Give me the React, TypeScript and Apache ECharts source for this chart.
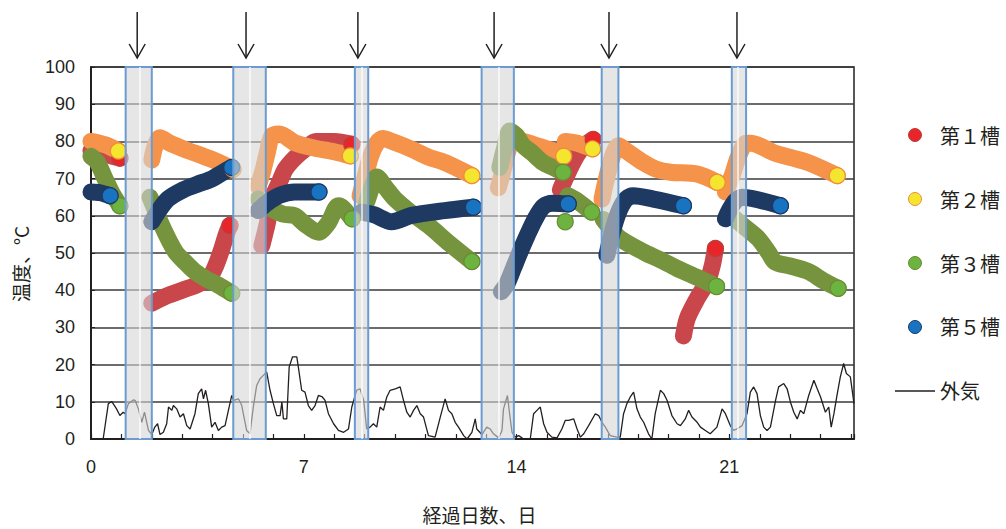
import React, { useEffect, useRef } from 'react';
import * as echarts from 'echarts';

// ---- axis / annotation data ----
const xTickLabels = [0, 7, 14, 21];
const bandRanges = [[1.14, 2.0], [4.68, 5.75], [8.68, 9.12], [12.85, 13.91], [16.8, 17.35], [21.08, 21.55]];
const bandGapDays = [1.61, 5.21, 8.9, 13.4, 21.29];
const arrowDays = [1.52, 5.1, 8.78, 13.26, 17.04, 21.25];

// ---- tank temperatures: [day, °C], one array per run ----
const tank1Segments = [
  [[0, 77.5], [0.5, 76.5], [0.95, 75.5]],
  [[2.0, 36.5], [2.5, 38.5], [3.0, 40], [3.5, 41.5], [3.9, 43.5], [4.1, 46.5], [4.3, 51], [4.45, 55], [4.57, 57.4]],
  [[5.62, 52], [5.8, 58], [5.95, 64.5], [6.2, 69], [6.39, 72.5], [6.7, 75.5], [7.05, 78], [7.4, 80], [8.0, 80], [8.58, 79.2]],
  [[15.44, 67], [15.6, 70], [15.8, 73.5], [16.0, 76.5], [16.25, 79], [16.52, 80.5]],
  [[19.49, 27.7], [19.62, 32.5], [19.95, 37.9], [20.28, 42.4], [20.44, 46.7], [20.54, 51.2]],
];
const tank2Segments = [
  [[0, 80], [0.5, 79], [0.9, 77.4]],
  [[2.0, 75], [2.1, 78.5], [2.27, 81], [2.6, 79.5], [3.1, 77.8], [3.7, 76], [4.2, 74.4], [4.67, 72.5]],
  [[5.5, 68], [5.65, 72], [5.8, 77], [5.95, 81.5], [6.2, 82], [6.71, 79.6], [7.3, 78.3], [8.0, 77.2], [8.53, 76.1]],
  [[8.85, 65.4], [9.0, 70], [9.2, 76], [9.4, 79.5], [9.6, 80.8], [9.9, 80], [10.55, 77.9], [11.1, 75.8], [11.65, 74.3], [12.53, 70.8]],
  [[13.4, 67.5], [13.55, 72], [13.7, 77], [13.85, 80], [14.2, 80], [14.6, 79], [15.0, 78], [15.3, 77.3], [15.55, 76]],
  [[15.6, 80], [16.0, 79.5], [16.5, 78]],
  [[16.81, 64.5], [16.9, 68], [17.05, 73], [17.2, 77], [17.35, 78.8], [17.6, 77.5], [18.17, 74.3], [18.6, 72.5], [19.06, 71.7], [19.95, 71.2], [20.6, 69]],
  [[20.87, 66.4], [21.1, 71], [21.3, 76], [21.55, 79.5], [21.7, 79.5], [22.51, 76.8], [23.1, 75.5], [23.6, 74.3], [24.55, 70.8]],
];
const tank3Segments = [
  [[0, 76], [0.2, 74.5], [0.46, 70], [0.7, 66], [0.95, 62.7]],
  [[1.94, 65], [2.33, 57.4], [2.77, 50.4], [3.1, 47.5], [3.42, 45], [3.8, 43], [4.18, 41.4], [4.63, 39.2]],
  [[5.5, 64.5], [5.8, 62.5], [6.3, 60.5], [6.71, 60], [7.0, 58], [7.48, 55.6], [7.8, 58], [8.14, 62.7], [8.3, 62], [8.59, 59.2]],
  [[9.07, 63.7], [9.25, 68], [9.4, 70.4], [9.7, 67.5], [10.0, 64.5], [10.5, 61], [11.1, 57.4], [11.8, 52.5], [12.53, 47.7]],
  [[13.45, 73], [13.6, 78], [13.78, 82.8], [14.0, 81.5], [14.2, 79], [14.5, 77], [14.87, 74.3], [15.2, 73], [15.53, 71.7]],
  [[15.6, 58.4]],
  [[15.7, 65.4], [16.0, 64], [16.47, 61]],
  [[16.85, 59], [17.1, 56.5], [17.4, 53.9], [18.17, 50.3], [18.7, 48.3], [19.27, 45.9], [20.0, 43.2], [20.58, 41]],
  [[21.18, 59.2], [21.5, 57], [21.95, 53.9], [22.3, 50], [22.5, 47.6], [23.0, 46.5], [23.6, 45], [24.1, 42.5], [24.58, 40.5]],
];
const tank5Segments = [
  [[0, 66.4], [0.3, 66.2], [0.63, 65.4]],
  [[2.0, 58.4], [2.2, 61], [2.53, 64.5], [3.09, 67.2], [3.5, 68.5], [3.97, 69.9], [4.3, 71.5], [4.63, 73]],
  [[5.5, 61.4], [5.8, 63.5], [6.2, 65.5], [6.7, 66.4], [7.5, 66.4]],
  [[8.9, 61], [9.3, 60.3], [9.89, 58.4], [10.55, 60.1], [11.64, 61.4], [12.58, 62.3]],
  [[13.5, 39.6], [13.7, 42], [13.9, 46], [14.1, 50], [14.35, 54.7], [14.6, 59], [14.88, 62.5], [15.2, 63.4], [15.7, 63.2]],
  [[16.97, 49.4], [17.1, 54], [17.25, 58.5], [17.41, 62], [17.6, 64.5], [17.84, 65.4], [18.5, 64.5], [19.49, 62.7]],
  [[20.87, 59.2], [21.0, 61.5], [21.2, 64], [21.42, 65], [22.0, 64.2], [22.68, 62.7]],
];

// ---- outside air temperature ----
const airDays = [
  0.4, 0.57, 0.68, 0.84, 0.95, 1.06, 1.12, 1.23, 1.39, 1.45, 1.56, 1.67, 1.76, 1.89, 2.0, 2.1, 2.19, 2.27, 2.38, 2.49,
  2.55, 2.66, 2.71, 2.82, 2.93, 3.04, 3.15, 3.26, 3.42, 3.53, 3.64, 3.7, 3.77, 3.86, 3.97, 4.08, 4.19, 4.3, 4.41, 4.52,
  4.63, 4.69, 4.85, 4.96, 5.01, 5.12, 5.23, 5.29, 5.34, 5.45, 5.56, 5.67, 5.78, 5.89, 6.0, 6.11, 6.22, 6.28, 6.33, 6.44,
  6.52, 6.63, 6.77, 6.82, 6.93, 7.04, 7.15, 7.26, 7.37, 7.48, 7.61, 7.7, 7.81, 7.98, 8.14, 8.31, 8.47, 8.58, 8.74, 8.85,
  8.97, 9.07, 9.18, 9.29, 9.4, 9.51, 9.62, 9.73, 9.84, 10.01, 10.17, 10.28, 10.39, 10.5, 10.61, 10.72, 10.83, 10.94, 11.1, 11.32,
  11.49, 11.65, 11.76, 11.87, 11.98, 12.09, 12.26, 12.37, 12.53, 12.64, 12.69, 12.86, 13.02, 13.13, 13.24, 13.41, 13.52, 13.57, 13.7, 13.77,
  13.85, 13.96, 14.07, 14.23, 14.45, 14.56, 14.67, 14.78, 14.89, 15.0, 15.16, 15.33, 15.49, 15.6, 15.71, 15.88, 15.99, 16.1, 16.21, 16.37,
  16.59, 16.7, 16.81, 16.92, 17.08, 17.3, 17.41, 17.52, 17.63, 17.74, 17.85, 17.96, 18.07, 18.18, 18.34, 18.45, 18.56, 18.73, 18.84, 18.95,
  19.11, 19.28, 19.39, 19.55, 19.66, 19.77, 19.94, 20.05, 20.21, 20.37, 20.59, 20.76, 20.87, 21.03, 21.14, 21.25, 21.42, 21.58, 21.69, 21.8,
  21.91, 22.02, 22.13, 22.24, 22.35, 22.52, 22.62, 22.79, 22.9, 23.01, 23.12, 23.23, 23.34, 23.45, 23.61, 23.78, 23.89, 24.0, 24.16, 24.27,
  24.35, 24.44, 24.54, 24.65, 24.76, 24.85, 24.98, 25.1,
];
const airTemps = [
  0, 9.5, 10.1, 8.1, 6.3, 7.2, 6.8, 9.5, 10.5, 10.4, 8.1, 4.5, 7.2, 2.3, 1.2, 3.2, 4.1, 1.2, 1.8, 4.1,
  8.6, 7.7, 9.0, 8.1, 5.9, 6.8, 3.6, 2.7, 6.8, 12.2, 13.5, 10.8, 13.1, 9.5, 3.2, 4.5, 2.3, 3.2, 3.6, 7.7,
  11.7, 10.4, 10.8, 9.0, 6.8, 2.3, 1.4, 5.4, 8.6, 14.4, 16.2, 17.1, 18.0, 13.1, 9.5, 6.3, 6.3, 9.9, 5.4, 5.4,
  19.4, 22.1, 22.1, 19.4, 13.1, 12.6, 9.0, 7.7, 9.0, 11.7, 11.3, 10.4, 6.8, 4.1, 2.3, 1.8, 2.7, 8.6, 13.1, 13.5,
  10.4, 2.7, 3.2, 4.1, 3.2, 8.6, 7.7, 11.3, 13.1, 13.5, 14.0, 10.4, 7.2, 5.9, 7.7, 9.0, 6.8, 5.9, 0.9, 0.5,
  5.9, 10.8, 7.7, 6.8, 4.5, 3.2, 0.9, 0, 1.8, 5.4, 2.7, 1.2, 3.2, 2.7, 1.4, 0.3, 2.3, 8.1, 11.7, 6.8,
  1.8, 0.5, 0.9, 0, 0, 6.8, 7.7, 8.6, 4.1, 1.8, 0.5, 0.3, 2.7, 5.0, 5.0, 5.4, 2.7, 0.5, 1.4, 3.6,
  6.8, 6.3, 4.5, 3.2, 0.9, 0.5, 0.5, 6.8, 9.5, 11.3, 12.6, 8.1, 5.9, 4.5, 1.4, 0, 6.8, 13.1, 12.2, 10.4,
  6.3, 4.1, 3.6, 5.4, 7.7, 5.9, 4.5, 3.2, 2.3, 1.4, 3.2, 8.1, 6.8, 3.6, 2.3, 2.7, 3.6, 6.8, 12.6, 14.0,
  12.2, 6.3, 3.2, 2.3, 3.2, 10.4, 14.0, 14.9, 13.5, 9.9, 7.2, 5.4, 7.7, 6.8, 11.7, 15.8, 13.5, 11.3, 7.2, 8.6,
  3.2, 6.8, 11.7, 16.7, 20.3, 17.6, 16.7, 9.5,
];

const JP = "'Noto Sans CJK JP', 'Noto Sans', sans-serif";
const NUM = "'Liberation Sans', Arial, 'Noto Sans', sans-serif";
const INK = '#231f20';

const tanks = [
  { name: '第１槽', segs: tank1Segments, line: '#c9474a', fill: '#e8262a', border: '#b8403d' },
  { name: '第２槽', segs: tank2Segments, line: '#f5934a', fill: '#f4e62e', border: '#f08a3c' },
  { name: '第３槽', segs: tank3Segments, line: '#76943d', fill: '#6cb33f', border: '#6a8a34' },
  { name: '第５槽', segs: tank5Segments, line: '#1f3a62', fill: '#1874c1', border: '#1f3864' },
];

export default function App() {
  const ref = useRef<HTMLDivElement>(null);
  useEffect(() => {
    document.body.style.margin = '0';
    if (!ref.current) return;
    const chart = echarts.init(ref.current, null, { renderer: 'svg' });

    const series: any[] = [];
    series.push({
      type: 'line',
      name: '外気',
      data: airDays.map((d, i) => [d, airTemps[i]]),
      symbol: 'none',
      silent: true,
      lineStyle: { width: 1.3, color: INK },
      itemStyle: { color: INK },
      z: 2,
    });
    tanks.forEach((t) => {
      t.segs.forEach((seg) => {
        if (seg.length > 1) {
          series.push({
            type: 'line',
            name: t.name,
            data: seg,
            smooth: 0.3,
            symbol: 'none',
            silent: true,
            lineStyle: { width: 17, color: t.line, cap: 'round', join: 'round' },
            itemStyle: { color: t.fill },
            z: 2,
          });
        }
      });
      series.push({
        type: 'scatter',
        name: t.name,
        data: t.segs.map((s) => s[s.length - 1]),
        symbol: 'circle',
        symbolSize: 16,
        silent: true,
        itemStyle: { color: t.fill, borderColor: t.border, borderWidth: 1.2, opacity: 1 },
        z: 2,
      });
    });
    series.push({
      type: 'line',
      name: 'bands',
      data: [],
      silent: true,
      z: 10,
      markArea: {
        silent: true,
        z: 10,
        itemStyle: { color: 'rgba(213,213,213,0.6)', borderColor: '#6b9bd0', borderWidth: 2 },
        data: bandRanges.map((b) => [{ xAxis: b[0] }, { xAxis: b[1] }]),
      },
      markLine: {
        silent: true,
        z: 11,
        symbol: 'none',
        label: { show: false },
        lineStyle: { color: '#ffffff', width: 1.5, type: 'solid', opacity: 0.85 },
        data: bandGapDays.map((d) => ({ xAxis: d })),
      },
    });

    chart.setOption({
      animation: false,
      textStyle: { fontFamily: NUM },
      grid: { left: 91, right: 152, top: 67, bottom: 87, show: true, borderColor: INK, borderWidth: 1.5 },
      xAxis: {
        type: 'value',
        min: 0,
        max: 25.1,
        interval: 1,
        axisLine: { show: true, onZero: false, lineStyle: { color: INK, width: 2 } },
        axisTick: { show: true, inside: true, length: 5, lineStyle: { color: INK, width: 1.2 } },
        axisLabel: {
          formatter: (v: number) => (xTickLabels.includes(Math.round(v * 1000) / 1000) ? String(v) : ''),
          fontSize: 18,
          color: INK,
          margin: 19,
          fontFamily: NUM,
        },
        splitLine: { show: false },
        name: '経過日数、日',
        nameLocation: 'middle',
        nameGap: 66,
        nameTextStyle: { fontSize: 19, color: INK, fontFamily: JP, padding: [0, 0, 0, 14] },
      },
      yAxis: {
        type: 'value',
        min: 0,
        max: 100,
        interval: 10,
        axisLine: { show: true, lineStyle: { color: INK, width: 2 } },
        axisTick: { show: true, inside: true, length: 4, lineStyle: { color: INK } },
        axisLabel: { fontSize: 18, color: INK, margin: 16, fontFamily: NUM },
        splitLine: { show: true, lineStyle: { color: '#3a3a3a', width: 1.5 } },
        name: '温度、°C',
        nameLocation: 'middle',
        nameRotate: 90,
        nameGap: 61,
        nameTextStyle: { fontSize: 19, color: INK, fontFamily: JP, padding: [0, 22, 0, 0] },
      },
      legend: {
        orient: 'vertical',
        left: 895,
        top: 125,
        itemWidth: 40,
        itemHeight: 13,
        itemGap: 44,
        padding: 0,
        selectedMode: false,
        textStyle: { fontSize: 20, color: INK, fontFamily: JP },
        data: [
          ...tanks.map((t) => ({
            name: t.name,
            icon: 'circle',
            itemStyle: { color: t.fill, borderColor: t.border, borderWidth: 1 },
          })),
          { name: '外気', icon: 'path://M0,0L40,0L40,1.3L0,1.3Z', itemStyle: { color: INK, borderWidth: 0 } },
        ],
      },
      series,
    });

    const graphics: any[] = [];
    arrowDays.forEach((d) => {
      const x = chart.convertToPixel({ xAxisIndex: 0 }, d) as number;
      graphics.push({
        type: 'line',
        shape: { x1: x, y1: 12, x2: x, y2: 58 },
        style: { stroke: INK, lineWidth: 1.5 },
        silent: true,
      });
      graphics.push({
        type: 'polyline',
        shape: { points: [[x - 8, 44], [x, 58], [x + 8, 44]] },
        style: { stroke: INK, lineWidth: 1.5, fill: 'none' },
        silent: true,
      });
    });
    chart.setOption({ graphic: graphics });

    return () => chart.dispose();
  }, []);
  return <div ref={ref} style={{ width: 1006, height: 529 }} />;
}
